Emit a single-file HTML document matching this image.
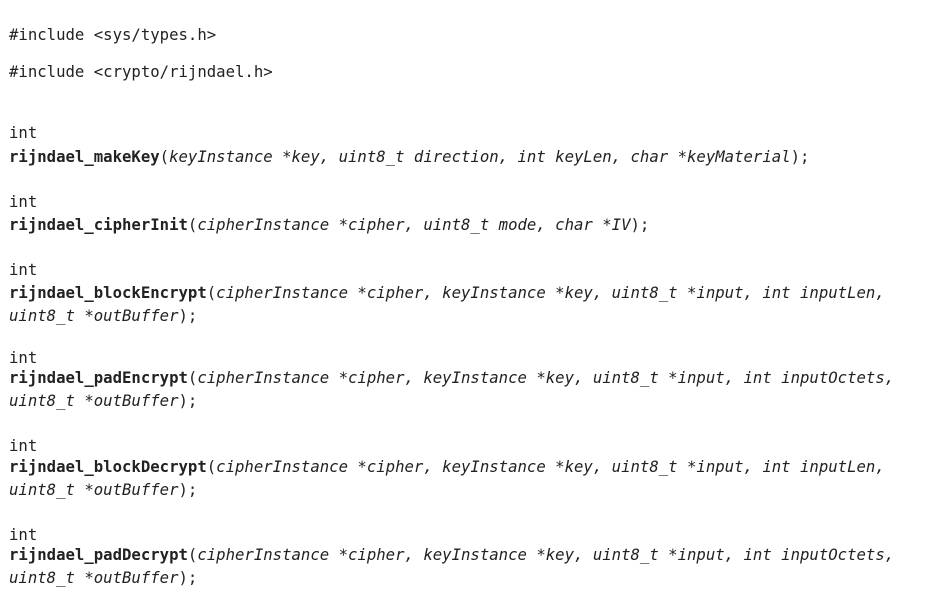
<!DOCTYPE html>
<html><head><meta charset="utf-8"><style>
body{margin:0;width:937px;height:596px;background:#fff;overflow:hidden;position:relative}
div{position:absolute;left:9px;white-space:pre;font-family:"DejaVu Sans Mono","Liberation Mono",monospace;font-size:15.65px;line-height:18px;color:#222}
b{font-weight:bold}
</style></head><body>
<div style="top:26px">#include &lt;sys/types.h&gt;</div>
<div style="top:63px">#include &lt;crypto/rijndael.h&gt;</div>
<div style="top:124px">int</div>
<div style="top:148px"><b>rijndael_makeKey</b>(<i>keyInstance *key, uint8_t direction, int keyLen, char *keyMaterial</i>);</div>
<div style="top:193px">int</div>
<div style="top:216px"><b>rijndael_cipherInit</b>(<i>cipherInstance *cipher, uint8_t mode, char *IV</i>);</div>
<div style="top:261px">int</div>
<div style="top:284px"><b>rijndael_blockEncrypt</b>(<i>cipherInstance *cipher, keyInstance *key, uint8_t *input, int inputLen,</i></div>
<div style="top:307px"><i>uint8_t *outBuffer</i>);</div>
<div style="top:349px">int</div>
<div style="top:369px"><b>rijndael_padEncrypt</b>(<i>cipherInstance *cipher, keyInstance *key, uint8_t *input, int inputOctets,</i></div>
<div style="top:392px"><i>uint8_t *outBuffer</i>);</div>
<div style="top:437px">int</div>
<div style="top:458px"><b>rijndael_blockDecrypt</b>(<i>cipherInstance *cipher, keyInstance *key, uint8_t *input, int inputLen,</i></div>
<div style="top:481px"><i>uint8_t *outBuffer</i>);</div>
<div style="top:526px">int</div>
<div style="top:546px"><b>rijndael_padDecrypt</b>(<i>cipherInstance *cipher, keyInstance *key, uint8_t *input, int inputOctets,</i></div>
<div style="top:569px"><i>uint8_t *outBuffer</i>);</div>
</body></html>
